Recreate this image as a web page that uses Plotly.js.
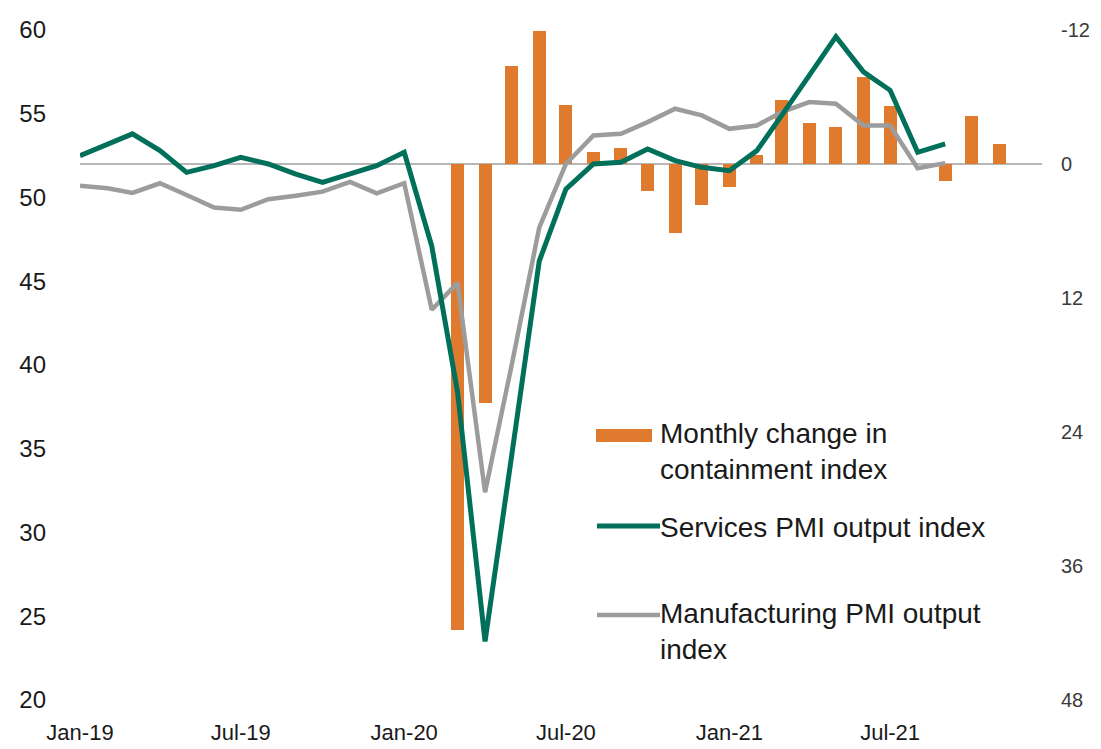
<!DOCTYPE html>
<html>
<head>
<meta charset="utf-8">
<script src="https://cdn.plot.ly/plotly-3.0.1.min.js"></script>
<style>
  html, body { margin: 0; padding: 0; background: #ffffff; }
  #chart { width: 1101px; height: 749px; }
</style>
</head>
<body>
<div id="chart"></div>
<script>
// Monthly observations, Jan-2019 to Nov-2021
const months = [
  '2019-01-01','2019-02-01','2019-03-01','2019-04-01','2019-05-01','2019-06-01',
  '2019-07-01','2019-08-01','2019-09-01','2019-10-01','2019-11-01','2019-12-01',
  '2020-01-01','2020-02-01','2020-03-01','2020-04-01','2020-05-01','2020-06-01',
  '2020-07-01','2020-08-01','2020-09-01','2020-10-01','2020-11-01','2020-12-01',
  '2021-01-01','2021-02-01','2021-03-01','2021-04-01','2021-05-01','2021-06-01',
  '2021-07-01','2021-08-01','2021-09-01','2021-10-01','2021-11-01'
];

// Monthly change in containment index (right axis, inverted)
const containmentChange = [
  null, null, null, null, null, null, null, null, null, null, null, null,
  null, null, 41.7, 21.4, -8.8, -11.9, -5.3, -1.1, -1.4, 2.4, 6.2, 3.7,
  2.1, -0.8, -5.7, -3.7, -3.3, -7.8, -5.2, null, 1.5, -4.3, -1.8
];

// Services PMI output index (left axis)
const servicesPMI = [
  52.5, 53.2, 53.8, 52.8, 51.5, 51.9, 52.4, 52.0, 51.4, 50.9, 51.4, 51.9,
  52.7, 47.1, 38.4, 23.5, 34.6, 46.2, 50.5, 52.0, 52.1, 52.9, 52.2, 51.8,
  51.6, 52.8, 54.9, 57.3, 59.6, 57.5, 56.4, 52.7, 53.2, null, null
];

// Manufacturing PMI output index (left axis)
const manufacturingPMI = [
  50.7, 50.55, 50.27, 50.85, 50.15, 49.4, 49.27, 49.9, 50.1, 50.35, 50.93, 50.25,
  50.85, 43.3, 44.9, 32.4, 40.0, 48.2, 52.0, 53.7, 53.8, 54.5, 55.3, 54.9,
  54.1, 54.3, 55.1, 55.7, 55.6, 54.3, 54.3, 51.75, 52.05, null, null
];

const tickMonths = ['2019-01-01','2019-07-01','2020-01-01','2020-07-01','2021-01-01','2021-07-01'];
const tickLabels = ['Jan-19','Jul-19','Jan-20','Jul-20','Jan-21','Jul-21'];
const leftTicks = [20, 25, 30, 35, 40, 45, 50, 55, 60];
const rightTicks = [-12, 0, 12, 24, 36, 48];
const rightTickLabels = ['-12', '0', '12', '24', '36', '48'];

const seriesNames = [
  'Monthly change in<br>containment index',
  'Services PMI output index',
  'Manufacturing PMI output<br>index'
];

const ORANGE = '#E07A2E';
const GREEN = '#00705A';
const GREY = '#9C9C9C';
const FONT = 'Liberation Sans, Arial, sans-serif';

// plot area in page pixels, used to place the hand-drawn key
const L = 80, R = 1042, T = 30, B = 700;
const px = x => (x - L) / (R - L);
const py = y => (B - y) / (B - T);

const DAY = 86400000;

const traces = [
  {
    type: 'bar', x: months, y: containmentChange, yaxis: 'y',
    width: 14.6 * DAY, marker: { color: ORANGE, line: { width: 0 } },
    name: seriesNames[0], showlegend: false, hoverinfo: 'skip'
  },
  {
    type: 'scatter', mode: 'lines', x: months, y: manufacturingPMI, yaxis: 'y2',
    line: { color: GREY, width: 4.5 }, name: seriesNames[2], showlegend: false, hoverinfo: 'skip'
  },
  {
    type: 'scatter', mode: 'lines', x: months, y: servicesPMI, yaxis: 'y2',
    line: { color: GREEN, width: 5 }, name: seriesNames[1], showlegend: false, hoverinfo: 'skip'
  }
];

const layout = {
  width: 1101, height: 749,
  margin: { l: L, r: 1101 - R, t: T, b: 749 - B, pad: 0 },
  paper_bgcolor: '#ffffff', plot_bgcolor: '#ffffff',
  font: { family: FONT, color: '#1a1a1a' },
  showlegend: false,
  bargap: 0,
  xaxis: {
    type: 'date', range: ['2019-01-01', '2021-12-19'],
    tickmode: 'array', tickvals: tickMonths, ticktext: tickLabels,
    showgrid: false, zeroline: false, showline: false, ticks: '',
    ticklabelstandoff: 17,
    tickfont: { family: FONT, size: 22, color: '#1a1a1a' }
  },
  yaxis: {
    side: 'right', range: [48, -12],
    tickmode: 'array', tickvals: rightTicks, ticktext: rightTickLabels,
    showgrid: false, showline: false, ticks: '',
    zeroline: true, zerolinecolor: '#B6B6B6', zerolinewidth: 2,
    ticklabelstandoff: 18,
    tickfont: { family: FONT, size: 20, color: '#3a3a3a' }
  },
  yaxis2: {
    overlaying: 'y', side: 'left', range: [20, 60],
    tickmode: 'array', tickvals: leftTicks,
    showgrid: false, zeroline: false, showline: false, ticks: '',
    ticklabelstandoff: 33,
    tickfont: { family: FONT, size: 24, color: '#1a1a1a' }
  },
  shapes: [
    { type: 'rect', xref: 'paper', yref: 'paper',
      x0: px(596), x1: px(652), y0: py(442), y1: py(429),
      fillcolor: ORANGE, line: { width: 0 } },
    { type: 'line', xref: 'paper', yref: 'paper',
      x0: px(597), x1: px(660), y0: py(526), y1: py(526),
      line: { color: GREEN, width: 5 } },
    { type: 'line', xref: 'paper', yref: 'paper',
      x0: px(597), x1: px(660), y0: py(615), y1: py(615),
      line: { color: GREY, width: 4.5 } }
  ],
  annotations: [
    { xref: 'paper', yref: 'paper', x: px(658), y: py(452), xanchor: 'left', yanchor: 'middle',
      align: 'left', showarrow: false, text: seriesNames[0],
      font: { family: FONT, size: 28, color: '#1a1a1a' } },
    { xref: 'paper', yref: 'paper', x: px(658), y: py(527), xanchor: 'left', yanchor: 'middle',
      align: 'left', showarrow: false, text: seriesNames[1],
      font: { family: FONT, size: 28, color: '#1a1a1a' } },
    { xref: 'paper', yref: 'paper', x: px(658), y: py(631), xanchor: 'left', yanchor: 'middle',
      align: 'left', showarrow: false, text: seriesNames[2],
      font: { family: FONT, size: 28, color: '#1a1a1a' } }
  ]
};

Plotly.newPlot('chart', traces, layout, { staticPlot: true, displayModeBar: false });
</script>
</body>
</html>
